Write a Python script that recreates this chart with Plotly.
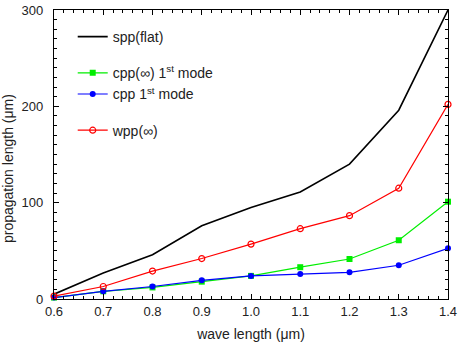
import plotly.graph_objects as go

wavelength = [0.6, 0.7, 0.8, 0.9, 1.0, 1.1, 1.2, 1.3, 1.4]
spp_flat = [5, 27, 46, 76, 95, 111, 140, 196, 300]
cpp_inf_1st = [1.5, 8, 12, 18, 24, 33, 41.5, 61, 101]
cpp_1st = [1.5, 8, 13, 19.4, 24, 26, 27.7, 35, 52.6]
wpp_inf = [3, 13, 29, 42, 57, 73, 86.5, 115, 202]

x_ticks = [0.6, 0.7, 0.8, 0.9, 1.0, 1.1, 1.2, 1.3, 1.4]
x_tick_labels = ["0.6", "0.7", "0.8", "0.9", "1.0", "1.1", "1.2", "1.3", "1.4"]
y_ticks = [0, 100, 200, 300]

font = "Liberation Sans, Arial, sans-serif"

fig = go.Figure()
fig.add_trace(go.Scatter(x=wavelength, y=spp_flat, mode="lines", name="spp(flat)",
                         line=dict(color="black", width=1.6), legendgroup="a", cliponaxis=False))
fig.add_trace(go.Scatter(x=wavelength, y=cpp_inf_1st, mode="lines+markers",
                         name="cpp(\u221e) 1<sup>st</sup> mode",
                         line=dict(color="#00ee00", width=1.2),
                         marker=dict(symbol="square", size=6, color="#00ee00"),
                         legendgroup="b", cliponaxis=False))
fig.add_trace(go.Scatter(x=wavelength, y=cpp_1st, mode="lines+markers",
                         name="cpp 1<sup>st</sup> mode",
                         line=dict(color="#0000ff", width=1.2),
                         marker=dict(symbol="circle", size=6, color="#0000ff"),
                         legendgroup="b", cliponaxis=False))
fig.add_trace(go.Scatter(x=wavelength, y=wpp_inf, mode="lines+markers",
                         name="wpp(\u221e)",
                         line=dict(color="#ff0000", width=1.2),
                         marker=dict(symbol="circle-open", size=6, color="#ff0000", line=dict(width=1.2)),
                         legendgroup="c", cliponaxis=False))

axis_common = dict(showline=True, linecolor="black", linewidth=1.3, mirror="ticks",
                   ticks="inside", ticklen=5, tickcolor="black", tickwidth=1,
                   showgrid=False, zeroline=False, ticklabeloverflow="allow", automargin=False,
                   tickfont=dict(family=font, size=13, color="#222"))

fig.update_xaxes(range=[0.6, 1.4], tickvals=x_ticks, ticktext=x_tick_labels, ticklabelstandoff=0,
                 title=dict(text="wave length (\u03bcm)", font=dict(family=font, size=14, color="#222"), standoff=11),
                 minor=dict(ticks="inside", ticklen=3, dtick=0.02, tick0=0.6, tickcolor="black"),
                 **axis_common)
fig.update_yaxes(range=[0, 300], tickvals=y_ticks, ticklabelstandoff=7,
                 minor=dict(ticks="inside", ticklen=3, dtick=10, tick0=0, tickcolor="black"),
                 **axis_common)

fig.add_annotation(text="propagation length (\u03bcm)", textangle=-90,
                   xref="paper", yref="paper", x=-0.1168, y=0.453,
                   xanchor="center", yanchor="middle", showarrow=False,
                   font=dict(family=font, size=14, color="#222"))

fig.update_layout(
    width=458, height=342,
    margin=dict(l=54, r=10, t=10, b=43, autoexpand=False),
    paper_bgcolor="white", plot_bgcolor="white",
    font=dict(family=font, size=13, color="#222"),
    legend=dict(x=0.0475, y=0.962, xanchor="left", yanchor="top",
                bgcolor="rgba(0,0,0,0)", tracegroupgap=15,
                font=dict(family=font, size=14, color="#222"),
                itemwidth=30),
    showlegend=True,
)

fig.write_html("out.html", config={"displayModeBar": False},
               post_script="document.body.style.margin='0';")
